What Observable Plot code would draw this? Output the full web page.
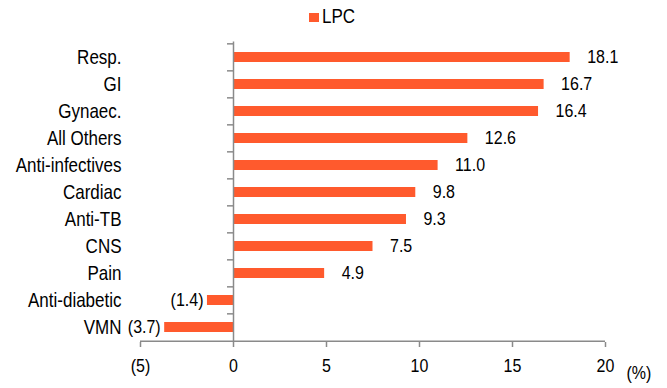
<!DOCTYPE html>
<html><head><meta charset="utf-8">
<script src="https://cdn.jsdelivr.net/npm/d3@7"></script>
<script src="https://cdn.jsdelivr.net/npm/@observablehq/plot@0.6"></script>
<style>
body{margin:0;background:#fff;font-family:"Liberation Sans",Arial,sans-serif;}
#wrap{position:relative;width:667px;height:388px;}
#legend{position:absolute;left:309px;top:7px;height:20px;display:flex;align-items:center;font-size:17px;color:#000;}
#legend .sw{width:10px;height:9px;margin-right:3px;}
#legend .lb{display:inline-block;transform:scale(1,1.14);}
</style></head><body><div id="wrap"><div id="legend"></div></div>
<script>
const categories = ["Resp.","GI","Gynaec.","All Others","Anti-infectives","Cardiac","Anti-TB","CNS","Pain","Anti-diabetic","VMN"];
const values = [18.1,16.7,16.4,12.6,11.0,9.8,9.3,7.5,4.9,-1.4,-3.7];
const seriesName = "LPC";
const xTicks = [-5,0,5,10,15,20];
const xDomain = [-5,20];
const unitLabel = "(%)";

const barColor = "#FF5A2D";
const axisColor = "#8a8a8a";
const W = 667, H = 388;
const mL = 140, mR = 62, mT = 41.5, mB = 46;
const step = (H - mT - mB) / categories.length;
const pxPerUnit = (W - mL - mR) / (xDomain[1] - xDomain[0]);
const tickLen = 6 / pxPerUnit;
const S = 1.14;

const data = categories.map((c, i) => ({category: c, value: values[i]}));
const fmt = v => v < 0 ? `(${Math.abs(v).toFixed(1)})` : v.toFixed(1);
const tickFmt = v => v < 0 ? `(${Math.abs(v)})` : `${v}`;

const plot = Plot.plot({
  width: W, height: H,
  marginLeft: mL, marginRight: mR, marginTop: mT, marginBottom: mB,
  style: {fontFamily: '"Liberation Sans", Arial, sans-serif', color: "#000", background: "#fff"},
  x: {domain: xDomain},
  y: {domain: categories, paddingInner: 1 - 10 / step, paddingOuter: (1 - 10 / step) / 2},
  marks: [
    Plot.barX(data, {y: "category", x: "value", fill: barColor}),
    Plot.ruleX([0], {stroke: axisColor, strokeWidth: 1.5}),
    Plot.ruleY(data, {y: "category", x1: -tickLen, x2: 0, dy: -step / 2, stroke: axisColor, strokeWidth: 1.5}),
    Plot.ruleY([categories[categories.length - 1]], {y: d => d, x1: xDomain[0], x2: xDomain[1], dy: step / 2, stroke: axisColor, strokeWidth: 1.5}),
    Plot.axisX(xTicks, {tickSize: 5, tickPadding: 12, tickFormat: tickFmt, fontSize: 16, stroke: axisColor, strokeWidth: 1.5, label: null}),
    Plot.axisY({tickSize: 0, tickPadding: 19, fontSize: 17, label: null}),
    Plot.text(data.filter(d => d.value >= 0), {y: "category", x: "value", text: d => fmt(d.value), textAnchor: "start", dx: 17, fontSize: 16}),
    Plot.text(data.filter(d => d.value < 0), {y: "category", x: "value", text: d => fmt(d.value), textAnchor: "end", dx: -4, fontSize: 16}),
    Plot.text([unitLabel], {frameAnchor: "bottom-right", text: d => d, textAnchor: "start", dx: 21, dy: 36, fontSize: 16})
  ]
});

plot.querySelectorAll("text").forEach(t => {
  const tr = t.getAttribute("transform") || "";
  t.setAttribute("transform", `${tr} scale(1,${S})`.trim());
});

const wrap = document.getElementById("wrap");
wrap.appendChild(plot);
const legend = document.getElementById("legend");
legend.innerHTML = `<span class="sw" style="background:${barColor}"></span><span class="lb">${seriesName}</span>`;
</script></body></html>
